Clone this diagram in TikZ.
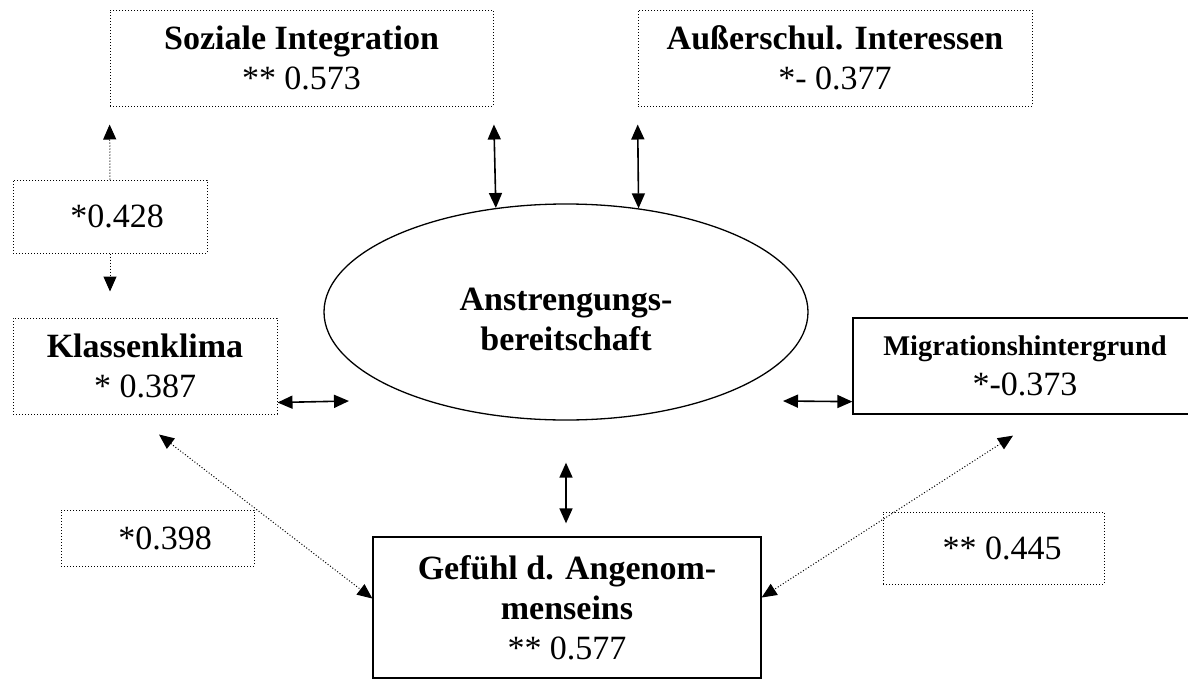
\documentclass[tikz,border=0pt]{standalone}
\usepackage{fontspec}
\setmainfont{Liberation Serif}
\usetikzlibrary{arrows.meta,shapes.geometric}

\begin{document}
\begin{tikzpicture}[
    x=1pt, y=-1pt,
    txt/.style={font={\fontsize{34}{40}\selectfont}, align=center},
    dotbox/.style={
        rectangle, draw, dotted, line width=1pt,
        inner sep=0pt, txt
    },
    solidbox/.style={
        rectangle, draw, line width=1.3pt,
        inner sep=0pt, txt
    },
    biarrow/.style={{Triangle[length=15pt,width=13pt]}-{Triangle[length=15pt,width=13pt]},
        line width=1.6pt},
    dotarrow/.style={-{Triangle[length=15pt,width=13pt]}, dotted, line width=1pt},
    dotbiarrow/.style={{Triangle[length=15pt,width=13pt]}-{Triangle[length=15pt,width=13pt]},
        dotted, line width=1pt}
]
\useasboundingbox (0,0) rectangle (1188,680);

\node[ellipse, draw, line width=1.3pt, minimum width=484pt, minimum height=216pt,
      inner sep=0pt] (anstr) at (566,312) {};
\node[txt] (anstrtext) at (566,319) {\textbf{Anstrengungs-}\\\textbf{bereitschaft}};

\node[dotbox, minimum width=383pt, minimum height=96pt] (sozint) at (301.5,58)
    {\textbf{Soziale Integration}\\{}** 0.573};
\node[dotbox, minimum width=394pt, minimum height=96pt] (aussen) at (835,58)
    {\textbf{Außerschul. Interessen}\\{}*- 0.377};
\node[dotbox, minimum width=264pt, minimum height=96pt] (klima) at (145,366)
    {\textbf{Klassenklima}\\{}* 0.387};
\node[solidbox, minimum width=344pt, minimum height=96pt] (migr) at (1025,366)
    {{\fontsize{28.5}{34}\selectfont\bfseries Migrationshintergrund}\\{}*-0.373};
\node[solidbox, minimum width=388pt, minimum height=141pt] (gefuehl) at (567,607.5)
    {\textbf{Gefühl d. Angenom-}\\\textbf{menseins}\\{}** 0.577};

\node[dotbox, minimum width=194pt, minimum height=73pt] (c428) at (110,216.5)
    {\hspace*{14pt}*0.428};
\node[dotbox, minimum width=193pt, minimum height=56pt] (c398) at (157.5,538)
    {\hspace*{15pt}*0.398};
\node[dotbox, minimum width=221pt, minimum height=72pt] (c445) at (993.5,548)
    {\hspace*{17pt}** 0.445};

\coordinate (klimaout) at (349,401);
\coordinate (migrin) at (783,401);

\draw[biarrow, shorten <=18pt] (sozint.south east) -- (anstr.124.7);
\draw[biarrow, shorten <=18pt] (aussen.south west) -- (anstr.55.3);
\draw[biarrow] ([yshift=12pt]klima.south east) -- (klimaout);
\draw[biarrow] (migrin) -- ([yshift=13pt]migr.south west);
\draw[biarrow, shorten <=42pt, shorten >=13pt] (anstr.south) -- (anstr.south |- gefuehl.north);

\draw[dotarrow, shorten >=18pt] (c428.north) -- (sozint.south west);
\draw[dotarrow, shorten >=26pt] (c428.south) -- (c428.south |- klima.north);
\draw[dotbiarrow] ([xshift=14pt,yshift=-20pt]klima.south) -- ([yshift=9pt]gefuehl.west);
\draw[dotbiarrow] ([xshift=-12pt,yshift=-21pt]migr.south) -- ([yshift=10pt]gefuehl.east);
\end{tikzpicture}
\end{document}
